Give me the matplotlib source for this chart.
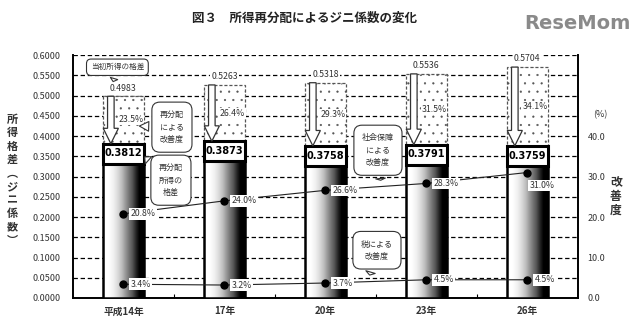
import numpy as np
import matplotlib
matplotlib.use("Agg")
import matplotlib.pyplot as plt
from matplotlib.patches import Rectangle, FancyArrow
from matplotlib import transforms

plt.rcParams['font.family'] = ['Noto Sans CJK JP', 'DejaVu Sans']
plt.rcParams['hatch.linewidth'] = 0.35

years = ['平成14年', '17年', '20年', '23年', '26年']
initial_gini = [0.4983, 0.5263, 0.5318, 0.5536, 0.5704]
redistributed_gini = [0.3812, 0.3873, 0.3758, 0.3791, 0.3759]
redistribution_improvement = [23.5, 26.4, 29.3, 31.5, 34.1]
social_security_improvement = [20.8, 24.0, 26.6, 28.3, 31.0]
tax_improvement = [3.4, 3.2, 3.7, 4.5, 4.5]
left_ticks = [0.0, 0.05, 0.1, 0.15, 0.2, 0.25, 0.3, 0.35, 0.4, 0.45, 0.5, 0.55, 0.6]
right_ticks = [0, 10, 20, 30, 40]

fig = plt.figure(figsize=(6.4, 3.3), dpi=100)
ax = fig.add_axes([0.114, 0.097, 0.789, 0.736])
ax.set_xlim(-0.5, len(years) - 0.5)
ax.set_ylim(0, 0.6)

# gridlines
for t in left_ticks[1:]:
    ax.axhline(t, color='black', lw=0.9, ls=(0, (3.5, 2.2)), zorder=1)

bw = 0.41
x = np.arange(len(years))
tt = np.linspace(0, 1, 200)
grad = np.clip((tt - 0.12) / 0.75, 0, 1) ** 1.2
grad = np.vstack([grad, grad])
white_box = dict(boxstyle='square,pad=0.12', fc='white', ec='none')
for i in range(len(years)):
    x0 = x[i] - bw / 2
    x1 = x[i] + bw / 2
    # dotted region (redistribution improvement)
    ax.add_patch(Rectangle((x0, redistributed_gini[i]), bw,
                           initial_gini[i] - redistributed_gini[i],
                           facecolor='white', edgecolor='#555555', lw=0.9,
                           ls=(0, (2.5, 1.5)), hatch='..', zorder=2))
    # gradient bar
    ax.imshow(grad, extent=[x0, x1, 0, redistributed_gini[i]], aspect='auto',
              cmap='Greys', vmin=0, vmax=1, zorder=3, interpolation='bilinear')
    ax.add_patch(Rectangle((x0, 0), bw, redistributed_gini[i], fill=False,
                           edgecolor='black', lw=1.8, zorder=4))
    # top value box
    ax.add_patch(Rectangle((x0, redistributed_gini[i] - 0.05), bw, 0.05,
                           facecolor='white', edgecolor='black', lw=2.2, zorder=5))
    ax.text(x[i], redistributed_gini[i] - 0.024, f'{redistributed_gini[i]:.4f}',
            ha='center', va='center', fontsize=7, fontweight='bold', zorder=6,
            family=['DejaVu Sans'])
    # hollow arrow
    ax.add_patch(FancyArrow(x[i] - 0.125, initial_gini[i], 0,
                            -(initial_gini[i] - redistributed_gini[i]),
                            width=0.065, head_width=0.15, head_length=0.038,
                            length_includes_head=True, facecolor='white',
                            edgecolor='#333333', lw=0.9, zorder=6))
    ax.text(x[i], initial_gini[i] + 0.009, f'{initial_gini[i]:.4f}',
            ha='center', va='bottom', fontsize=6.3, color='#333333', zorder=6,
            bbox=white_box)
    ax.text(x[i] - 0.05, (initial_gini[i] + redistributed_gini[i]) / 2,
            f'{redistribution_improvement[i]:.1f}%', ha='left', va='center',
            fontsize=6.3, color='#333333', zorder=6,
            bbox=dict(boxstyle='square,pad=0.1', fc='white', ec='none'))

ax.set_yticks(left_ticks)
ax.set_yticklabels([f'{t:.4f}' for t in left_ticks], fontsize=6.5, color='#333333')
ax.tick_params(axis='y', length=0, pad=9)
ax.set_xticks(x)
ax.set_xticklabels(years, fontsize=7, fontweight='bold', color='#333333')
ax.set_xticks(x[:-1] + 0.5, minor=True)
ax.tick_params(axis='x', which='major', length=0, pad=6)
ax.tick_params(axis='x', which='minor', length=3, direction='in', width=0.8)
ax.spines['top'].set_visible(False)
for s in ['left', 'bottom', 'right']:
    ax.spines[s].set_linewidth(1.4)

ax2 = ax.twinx()
ax2.set_ylim(0, 60)
ax2.set_yticks(right_ticks)
ax2.set_yticklabels([f'{t:.1f}' for t in right_ticks], fontsize=6.5, color='#333333')
ax2.tick_params(axis='y', length=0, pad=7)
for s in ax2.spines.values():
    s.set_visible(False)

ax2.plot(x, social_security_improvement, color='#222222', lw=0.8, marker='o',
         ms=5, mfc='black', mec='black', zorder=3)
ax2.plot(x, tax_improvement, color='#222222', lw=0.8, marker='o',
         ms=5, mfc='black', mec='black', zorder=3)
lbl_box = dict(boxstyle='square,pad=0.15', fc='white', ec='none')
for i in range(len(years)):
    if i == len(years) - 1:
        ax2.text(x[i] + 0.02, social_security_improvement[i] - 3.2,
                 f'{social_security_improvement[i]:.1f}%', ha='left', va='center',
                 fontsize=6.3, color='#333333', bbox=lbl_box, zorder=4)
    else:
        ax2.text(x[i] + 0.07, social_security_improvement[i],
                 f'{social_security_improvement[i]:.1f}%', ha='left', va='center',
                 fontsize=6.3, color='#333333', bbox=lbl_box, zorder=4)
    ax2.text(x[i] + 0.07, tax_improvement[i], f'{tax_improvement[i]:.1f}%',
             ha='left', va='center', fontsize=6.3, color='#333333',
             bbox=lbl_box, zorder=4)

# callout bubbles
def bubble(text, xy, xytext, fs=5.8, pad=1.0):
    ax2.annotate(text, xy=xy, xytext=xytext, ha='center', va='center',
                 fontsize=fs, color='#333333', linespacing=1.5, zorder=7,
                 bbox=dict(boxstyle=f'round,pad={pad},rounding_size=1.0', fc='white',
                           ec='#333333', lw=0.8),
                 arrowprops=dict(arrowstyle='wedge,tail_width=1.2,shrink_factor=0.5',
                                 fc='white', ec='#333333', lw=0.8))

ax2.annotate('当初所得の格差', xy=(-0.11, 52.8), xytext=(-0.06, 57.0),
             ha='center', va='center', fontsize=5.5, color='#333333', zorder=7,
             bbox=dict(boxstyle='round,pad=0.55,rounding_size=0.6', fc='white',
                       ec='#333333', lw=0.8),
             arrowprops=dict(arrowstyle='wedge,tail_width=1.0,shrink_factor=0.5',
                             fc='white', ec='#333333', lw=0.8))
bubble('再分配\nによる\n改善度', (0.13, 42.5), (0.48, 42.2))
bubble('再分配\n所得の\n格差', (0.19, 35.3), (0.47, 29.1))
bubble('社会保障\nによる\n改善度', (2.55, 28.4), (2.52, 36.5))
bubble('税による\n改善度', (2.43, 5.0), (2.51, 11.8))

tr = transforms.blended_transform_factory(ax2.transAxes, ax2.transData)
ax2.text(1.03, 45.2, '(%)', transform=tr, fontsize=6.5, color='#333333',
         ha='left', va='center')

fig.text(0.019, 0.455, '所\n得\n格\n差\n︵\nジ\nニ\n係\n数\n︶', ha='center',
         va='center', fontsize=8, fontweight='bold', color='#333333', linespacing=1.05)
fig.text(0.962, 0.405, '改\n善\n度', ha='center', va='center', fontsize=8.5,
         fontweight='bold', color='#333333', linespacing=1.1)

fig.text(0.475, 0.945, '図３　所得再分配によるジニ係数の変化', ha='center', va='center',
         fontsize=9, fontweight='bold', color='#222222')
fig.text(0.903, 0.93, 'ReseMom', ha='center', va='center', fontsize=14,
         fontweight='bold', color='#8a8a8a', family=['DejaVu Sans'])

fig.savefig('out.png', dpi=100)
